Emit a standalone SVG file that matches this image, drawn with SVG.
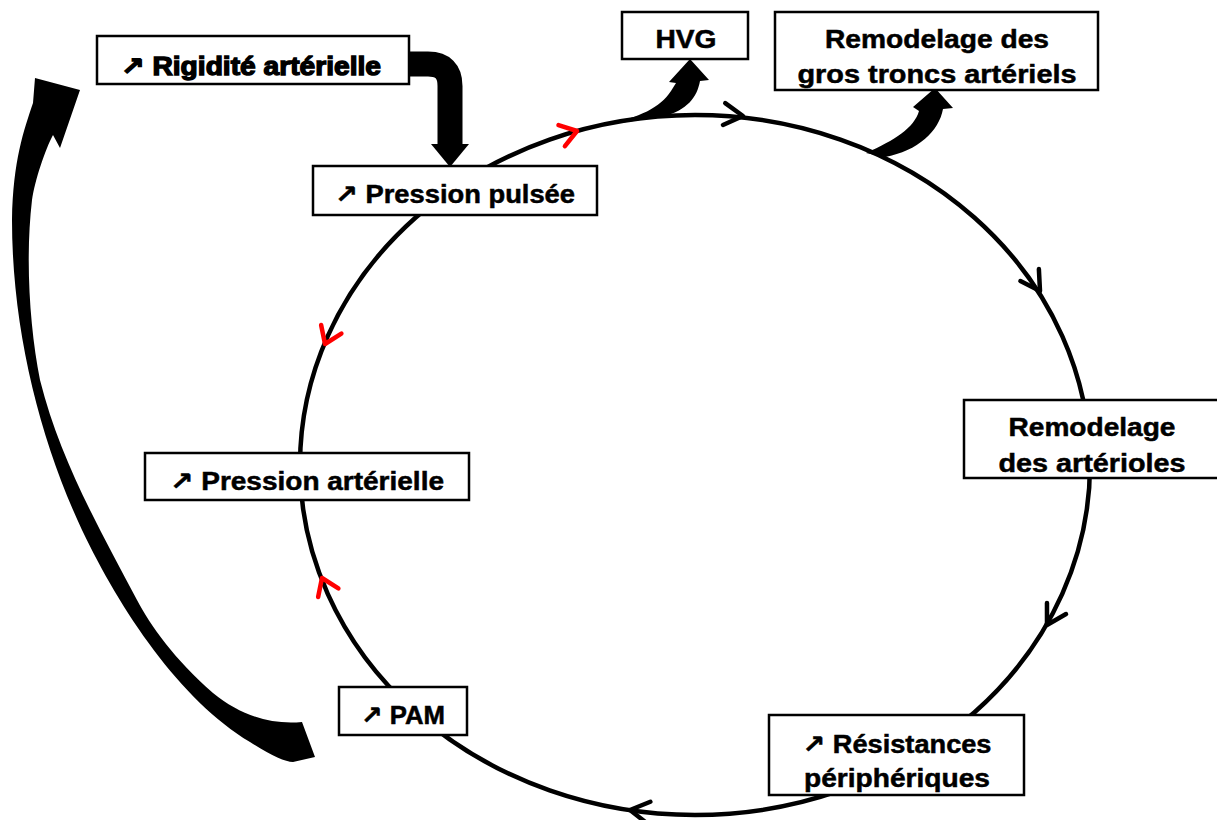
<svg xmlns="http://www.w3.org/2000/svg" width="1217" height="820" viewBox="0 0 1217 820">
<defs>
<style>
.box{fill:#fff;stroke:#000;stroke-width:2.5}
.t{font-family:"Liberation Sans","DejaVu Sans",Arial,sans-serif;font-weight:bold;font-size:25px;fill:#000;text-anchor:middle;stroke:#000;stroke-width:0.5}
.heavy{stroke-width:1.3}
.ring{fill:none;stroke:#000;stroke-width:4.5}
</style>
<path id="chevK" d="M-19,-11 L0,0 L-19,11" fill="none" stroke="#000" stroke-width="4.5" stroke-linecap="round" stroke-linejoin="round"/>
<path id="chevR" d="M-16,-11 L0,0 L-16,11" fill="none" stroke="#f00" stroke-width="4.5" stroke-linecap="round" stroke-linejoin="round"/>
</defs>
<rect width="1217" height="820" fill="#fff"/>
<g id="connectors">
<ellipse class="ring" cx="695" cy="465" rx="395" ry="350"/>
<use href="#chevK" transform="translate(743,116) rotate(6)"/>
<use href="#chevK" transform="translate(1040,291) rotate(57)"/>
<use href="#chevK" transform="translate(1047,625) rotate(120)"/>
<use href="#chevK" transform="translate(630,810) rotate(188)"/>
<use href="#chevR" transform="translate(577,131) rotate(-17)"/>
<use href="#chevR" transform="translate(325,344) rotate(113)"/>
<use href="#chevR" transform="translate(322,578) rotate(-113)"/>
<path d="M408,64 L428,64 Q450,64 450,86 L450,146" fill="none" stroke="#000" stroke-width="25"/>
<polygon points="431,144 469,144 450,167" fill="#000"/>
<path d="M605,125 C640,117 660,108 671,91 L676,83 L669,82 L690,59 L709,80 L700,81 C697,97 688,110 662,117 Z" fill="#000"/>
<path d="M866,153 C895,140 914,128 919,111 L913,107 L935,88 L953,108 L943,109 C939,131 918,151 885,157 Z" fill="#000"/>
<path d="M35,78 L33,103 C24,130 13,160 12,220 C12,330 40,440 82,530 C120,610 180,700 250,742 C270,755 285,762 293,762 L315,757 L302,722 C270,725 240,715 213,693 C175,660 150,625 137,600 C100,530 60,460 40,380 C30,330 25,260 32,200 C35,180 45,150 53,135 L60,148 L80,90 Z" fill="#000"/>
</g>
<g id="n-rigidite"><rect class="box" x="97" y="36" width="312" height="48"/><text class="t heavy" x="251" y="75" textLength="260" lengthAdjust="spacingAndGlyphs">↗ Rigidité artérielle</text></g>
<g id="n-pulsee"><rect class="box" x="313" y="166" width="284" height="49"/><text class="t" x="455" y="203" textLength="240" lengthAdjust="spacingAndGlyphs">↗ Pression pulsée</text></g>
<g id="n-hvg"><rect class="box" x="622" y="12" width="126" height="47"/><text class="t" x="686" y="48" textLength="61" lengthAdjust="spacingAndGlyphs">HVG</text></g>
<g id="n-gros"><rect class="box" x="775" y="12" width="323" height="78"/><text class="t" x="937" y="48" textLength="224" lengthAdjust="spacingAndGlyphs">Remodelage des</text><text class="t" x="937" y="83" textLength="279" lengthAdjust="spacingAndGlyphs">gros troncs artériels</text></g>
<g id="n-arterioles"><rect class="box" x="964" y="400" width="260" height="78"/><text class="t" x="1092" y="436" textLength="167" lengthAdjust="spacingAndGlyphs">Remodelage</text><text class="t" x="1092" y="472" textLength="187" lengthAdjust="spacingAndGlyphs">des artérioles</text></g>
<g id="n-resistances"><rect class="box" x="769" y="715" width="255" height="80"/><text class="t" x="897" y="753" textLength="189" lengthAdjust="spacingAndGlyphs">↗ Résistances</text><text class="t" x="897" y="787" textLength="186" lengthAdjust="spacingAndGlyphs">périphériques</text></g>
<g id="n-pam"><rect class="box" x="339" y="687" width="128" height="48"/><text class="t" x="403" y="724" textLength="84" lengthAdjust="spacingAndGlyphs">↗ PAM</text></g>
<g id="n-arterielle"><rect class="box" x="145" y="453" width="324" height="47"/><text class="t" x="307" y="490" textLength="274" lengthAdjust="spacingAndGlyphs">↗ Pression artérielle</text></g>
</svg>
